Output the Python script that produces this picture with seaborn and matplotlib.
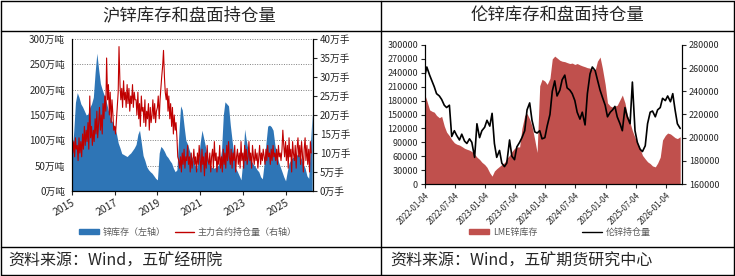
import matplotlib
matplotlib.use("Agg")
import matplotlib.pyplot as plt
from matplotlib.lines import Line2D
from matplotlib.patches import Patch
import numpy as np
import pandas as pd
import seaborn as sns

# ---- SHFE zinc: inventory (万吨, monthly from 2015-01) ----
shfe_stock = [
    70, 120, 175, 194, 185, 172, 166, 158, 150, 152, 165, 172,   # 2015
    185, 235, 272, 240, 212, 200, 190, 180, 165, 150, 140, 135,  # 2016
    125, 112, 95, 85, 74, 72, 70, 68, 72, 75, 80, 85,            # 2017
    92, 112, 120, 95, 70, 60, 48, 42, 38, 35, 30, 25,            # 2018
    22, 75, 88, 84, 78, 70, 66, 60, 55, 45, 38, 42,              # 2019
    110, 168, 160, 128, 100, 92, 80, 70, 62, 52, 44, 60,         # 2020
    95, 120, 105, 88, 70, 55, 48, 46, 45, 48, 50, 58,            # 2021
    80, 150, 176, 172, 168, 130, 100, 70, 45, 38, 30, 22,        # 2022
    60, 122, 100, 80, 68, 58, 52, 48, 42, 38, 28, 24,            # 2023
    55, 95, 128, 130, 127, 120, 92, 72, 58, 48, 38, 28,          # 2024
    20, 40, 55, 62, 66, 68, 70, 73, 70, 62, 52, 45,              # 2025
    30, 25, 90, 153,                                             # 2026
]

# ---- SHFE zinc: main contract open interest (万手, semi-monthly from 2015-01) ----
shfe_oi = [
    18, 10, 13, 9, 14, 11, 12, 8, 14, 10, 13, 9, 15, 11, 17, 12, 16, 13, 18, 11, 25, 14, 17, 12,
    16, 13, 19, 15, 21, 14, 18, 22, 16, 20, 15, 23, 19, 25, 21, 35, 24, 28, 20, 26, 18, 24, 20, 16,
    17, 15, 19, 22, 26, 38, 28, 24, 27, 22, 29, 24, 26, 22, 28, 23, 27, 21, 25, 23, 28, 22, 26, 24,
    24, 20, 26, 19, 23, 17, 25, 21, 22, 18, 24, 17, 21, 19, 23, 16, 22, 18, 20, 24, 19, 23, 18, 21,
    22, 25, 19, 24, 27, 30, 33, 37, 30, 26, 24, 27, 21, 25, 19, 23, 17, 22, 15, 20, 16, 18, 14, 9,
    8, 6, 9, 5, 10, 7, 11, 6, 9, 8, 12, 7, 9, 5, 10, 6, 8, 11, 7, 9, 5, 10, 7, 12,
    8, 5, 11, 7, 9, 4, 10, 6, 12, 8, 7, 10, 5, 9, 11, 6, 13, 8, 10, 5, 9, 7, 12, 6,
    9, 5, 11, 7, 10, 6, 12, 8, 13, 9, 7, 11, 6, 10, 8, 12, 5, 9, 11, 7, 10, 6, 13, 8,
    10, 6, 12, 8, 11, 7, 9, 13, 8, 10, 6, 12, 9, 7, 11, 8, 10, 6, 9, 12, 7, 10, 8, 11,
    9, 7, 11, 8, 12, 9, 10, 7, 11, 8, 12, 9, 10, 8, 11, 7, 12, 9, 10, 8, 11, 16, 12, 9,
    13, 8, 12, 6, 14, 9, 11, 5, 13, 10, 8, 12, 6, 11, 14, 9, 12, 7, 13, 10, 5, 11, 14, 8,
    12, 7, 11, 5, 13, 10,
]

# ---- LME zinc: stocks and open interest (thousands, semi-monthly from 2022-01) ----
lme_stock_k = [
    195, 180, 160, 157, 155, 148, 143, 146, 125, 112, 104, 96, 89, 86, 84, 81, 77, 75, 73, 70, 64, 58, 53, 47,
    42, 36, 24, 17, 28, 33, 38, 42, 46, 55, 62, 70, 77, 80, 80, 120, 148, 152, 140, 125, 95, 68, 212, 226,
    222, 215, 228, 270, 276, 272, 267, 265, 264, 262, 260, 261, 258, 260, 257, 255, 253, 251, 250, 248, 246, 265, 274, 250,
    215, 175, 168, 166, 168, 170, 182, 192, 175, 150, 132, 115, 100, 90, 76, 62, 54, 48, 44, 39, 37, 45, 58, 95,
    105, 110, 108, 104, 100, 98, 102,
]
lme_oi_k = [
    252, 261, 254, 249, 244, 238, 236, 233, 228, 226, 228, 201, 206, 202, 198, 203, 197, 195, 199, 196, 183, 212, 200, 206,
    209, 215, 210, 221, 195, 183, 189, 178, 175, 178, 198, 184, 181, 192, 196, 200, 206, 224, 230, 215, 205, 204, 206, 199,
    200, 210, 220, 240, 249, 236, 241, 250, 254, 243, 241, 238, 232, 222, 216, 222, 211, 238, 255, 261, 258, 250, 241, 235,
    228, 218, 222, 224, 227, 218, 212, 206, 226, 218, 212, 248, 206, 196, 190, 188, 193, 212, 222, 223, 218, 224, 226, 234,
    232, 236, 231, 238, 224, 212, 208,
]

shfe_years = ["2015", "2017", "2019", "2021", "2023", "2025"]
lme_ticks = ["2022-01-04", "2022-07-04", "2023-01-04", "2023-07-04", "2024-01-04",
             "2024-07-04", "2025-01-04", "2025-07-04", "2026-01-04"]

sns.set_theme(style="white")
plt.rcParams["font.family"] = ["Noto Sans CJK SC", "DejaVu Sans"]
plt.rcParams["axes.unicode_minus"] = False

W, H = 735, 276
fig = plt.figure(figsize=(W / 100, H / 100), dpi=100)


def box(x, y, w, h):
    return [x / W, 1 - (y + h) / H, w / W, h / H]


# ---------------- left panel ----------------
stock_df = pd.DataFrame({"date": pd.date_range("2015-01-01", periods=len(shfe_stock), freq="MS"),
                         "stock": shfe_stock})
oi_df = pd.DataFrame({"date": pd.date_range("2015-01-01", periods=len(shfe_oi), freq="SMS"),
                      "oi": shfe_oi})

ax1 = fig.add_axes(box(72, 39, 241, 152))
ax1.fill_between(stock_df["date"], stock_df["stock"], color="#2e75b6", linewidth=0)
ax1.set_ylim(0, 300)
ax1.set_yticks(range(0, 301, 50))
ax1.set_yticklabels([f"{v}万吨" for v in range(0, 301, 50)])
ax1.set_xlim(pd.Timestamp("2015-01-01"), pd.Timestamp("2026-04-15"))
ax1.set_xticks([pd.Timestamp(f"{y}-01-01") for y in shfe_years])
ax1.set_xticklabels(shfe_years, rotation=30, ha="right", rotation_mode="anchor")
ax1.yaxis.grid(True, linestyle=(0, (1, 1.5)), color="#7f7f7f", linewidth=0.7)
ax1.set_axisbelow(True)
ax1.tick_params(axis="y", length=0, pad=5, labelsize=7, colors="#262626")
ax1.tick_params(axis="x", bottom=True, length=3, width=0.8, direction="out", pad=2,
                labelsize=7.5, colors="#262626")
ax1.set_xlabel("")
ax1.set_ylabel("")

ax1b = ax1.twinx()
sns.lineplot(data=oi_df, x="date", y="oi", ax=ax1b, color="#c00000", linewidth=0.8)
ax1b.set_ylim(0, 40)
ax1b.set_yticks(range(0, 41, 5))
ax1b.set_yticklabels([f"{v}万手" for v in range(0, 41, 5)])
ax1b.tick_params(axis="y", right=True, length=3, width=0.8, direction="out", pad=2,
                 labelsize=7, colors="#262626")
ax1b.set_ylabel("")
ax1b.set_xlabel("")

for a in (ax1, ax1b):
    a.spines["top"].set_visible(False)
    for s in ("left", "bottom", "right"):
        a.spines[s].set_color("black")
        a.spines[s].set_linewidth(0.8)

fig.legend(handles=[Patch(color="#2e75b6", label="锌库存（左轴）"),
                    Line2D([], [], color="#c00000", linewidth=1, label="主力合约持仓量（右轴）")],
           loc="center", bbox_to_anchor=(188 / W, 1 - 232 / H), ncol=2, frameon=False,
           fontsize=6.5, handlelength=2.2, handleheight=0.5, columnspacing=1.0, handletextpad=0.4,
           labelcolor="#595959")

# ---------------- right panel ----------------
lme_df = pd.DataFrame({"date": pd.date_range("2022-01-01", periods=len(lme_stock_k), freq="SMS"),
                       "stock": np.array(lme_stock_k) * 1000,
                       "oi": np.array(lme_oi_k) * 1000})

ax2 = fig.add_axes(box(425, 45, 257, 139))
ax2.fill_between(lme_df["date"], lme_df["stock"], color="#c0504d", linewidth=0)
ax2.set_ylim(0, 300000)
ax2.set_yticks(range(0, 300001, 30000))
ax2.set_xlim(pd.Timestamp("2022-01-04"), pd.Timestamp("2026-04-12"))
ax2.set_xticks([pd.Timestamp(t) for t in lme_ticks])
ax2.set_xticklabels(lme_ticks, rotation=45, ha="right", rotation_mode="anchor")
ax2.tick_params(axis="both", length=3, width=0.8, direction="out", pad=2, labelsize=6.5, colors="#262626")
ax2.tick_params(axis="x", bottom=True, labelsize=5.8)
ax2.tick_params(axis="y", left=True)

ax2b = ax2.twinx()
sns.lineplot(data=lme_df, x="date", y="oi", ax=ax2b, color="black", linewidth=1.2)
ax2b.set_ylim(160000, 280000)
ax2b.set_yticks(range(160000, 280001, 20000))
ax2b.tick_params(axis="y", right=True, length=3, width=0.8, direction="out", pad=2,
                 labelsize=6.5, colors="#262626")
ax2b.set_ylabel("")
ax2b.set_xlabel("")

for a in (ax2, ax2b):
    a.grid(False)
    a.spines["top"].set_visible(False)
    for s in ("left", "bottom", "right"):
        a.spines[s].set_color("black")
        a.spines[s].set_linewidth(0.8)

fig.legend(handles=[Patch(color="#c0504d", label="LME锌库存"),
                    Line2D([], [], color="black", linewidth=1, label="伦锌持仓量")],
           loc="center", bbox_to_anchor=(560 / W, 1 - 232 / H), ncol=2, frameon=False,
           fontsize=6.5, handlelength=2.2, handleheight=0.5, columnspacing=5.0, handletextpad=0.4,
           labelcolor="#595959")

# ---------------- frame, titles, sources ----------------
for (x0, y0, x1, y1) in [(0.5, 0.5, W - 1, 0.5), (0.5, H - 1, W - 1, H - 1),
                         (0.5, 0.5, 0.5, H - 1), (W - 1, 0.5, W - 1, H - 1),
                         (381, 0.5, 381, H - 1), (0.5, 31, W - 1, 31), (0.5, 247, W - 1, 247)]:
    fig.add_artist(Line2D([x0 / W, x1 / W], [1 - y0 / H, 1 - y1 / H], color="black", linewidth=1))

fig.text(189 / W, 1 - 15 / H, "沪锌库存和盘面持仓量", ha="center", va="center", fontsize=12.5)
fig.text(557 / W, 1 - 15 / H, "伦锌库存和盘面持仓量", ha="center", va="center", fontsize=12.5)
fig.text(8 / W, 1 - 261 / H, "资料来源：Wind，五矿经研院", ha="left", va="center", fontsize=11.5)
fig.text(390 / W, 1 - 261 / H, "资料来源：Wind，五矿期货研究中心", ha="left", va="center", fontsize=11.5)

fig.savefig("out.png", dpi=100)
